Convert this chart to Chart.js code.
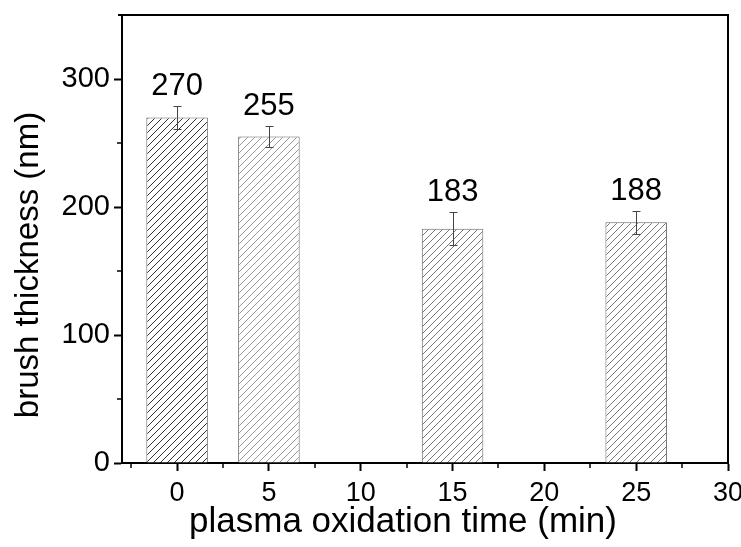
<!DOCTYPE html>
<html>
<head>
<meta charset="utf-8">
<script src="https://cdn.jsdelivr.net/npm/chart.js@4.4.1/dist/chart.umd.min.js"></script>
<style>
  html, body { margin: 0; padding: 0; background: #fff; }
</style>
</head>
<body>
<canvas id="c" width="741" height="547"></canvas>
<script>
// data
const times = [0, 5, 15, 25];            // plasma oxidation time (min)
const thickness = [270, 255, 183, 188];  // brush thickness (nm)
const thicknessErr = [9, 8, 13, 9];
const xTicks = [0, 5, 10, 15, 20, 25, 30];
const xMinor = [-2.5, 2.5, 7.5, 12.5, 17.5, 22.5, 27.5];
const yTicks = [0, 100, 200, 300];
const yMinor = [50, 150, 250];
const xTitle = 'plasma oxidation time (min)';
const yTitle = 'brush thickness (nm)';

const FONT = '"Liberation Sans", Arial, sans-serif';

// diagonal hatch fill
function hatch(color, gap) {
  const c = document.createElement('canvas');
  c.width = gap; c.height = gap;
  const g = c.getContext('2d');
  g.fillStyle = '#fff';
  g.fillRect(0, 0, gap, gap);
  g.strokeStyle = color;
  g.lineWidth = 1;
  g.beginPath();
  g.moveTo(0, gap); g.lineTo(gap, 0);
  g.moveTo(-1, 1); g.lineTo(1, -1);
  g.moveTo(gap - 1, gap + 1); g.lineTo(gap + 1, gap - 1);
  g.stroke();
  return g.createPattern(c, 'repeat');
}
const fills = [hatch('#333', 7), hatch('#999', 7), hatch('#777', 7), hatch('#777', 7)];

// error bars, value labels, box frame, minor ticks, axis titles
const extras = {
  id: 'extras',
  afterDatasetsDraw(chart) {
    const { ctx, scales: { x, y } } = chart;
    ctx.save();
    times.forEach((t, i) => {
      const px = Math.round(x.getPixelForValue(t)) + 0.5;
      const top = Math.round(y.getPixelForValue(thickness[i] + thicknessErr[i])) + 0.5;
      const bot = Math.round(y.getPixelForValue(thickness[i] - thicknessErr[i])) + 0.5;
      ctx.strokeStyle = '#444';
      ctx.lineWidth = 1;
      ctx.beginPath();
      ctx.moveTo(px, top); ctx.lineTo(px, bot);
      ctx.moveTo(px - 4, top); ctx.lineTo(px + 4, top);
      ctx.moveTo(px - 4, bot); ctx.lineTo(px + 4, bot);
      ctx.stroke();

      ctx.fillStyle = '#000';
      ctx.font = '31px ' + FONT;
      ctx.textAlign = 'center';
      ctx.textBaseline = 'alphabetic';
      ctx.fillText(String(thickness[i]), x.getPixelForValue(t), top - 12);
    });
    ctx.restore();
  },
  afterDraw(chart) {
    const { ctx, chartArea: a, scales: { x, y } } = chart;
    ctx.save();
    ctx.strokeStyle = '#000';
    ctx.lineWidth = 2;
    ctx.beginPath();
    ctx.moveTo(a.left - 4, a.top);
    ctx.lineTo(a.right, a.top);
    ctx.lineTo(a.right, a.bottom);
    ctx.stroke();
    // minor ticks
    ctx.lineWidth = 1.5;
    ctx.beginPath();
    yMinor.forEach(v => {
      const py = Math.round(y.getPixelForValue(v));
      ctx.moveTo(a.left, py); ctx.lineTo(a.left - 5, py);
    });
    xMinor.forEach(v => {
      const px = Math.round(x.getPixelForValue(v));
      ctx.moveTo(px, a.bottom); ctx.lineTo(px, a.bottom + 5);
    });
    ctx.stroke();
    // axis titles
    ctx.fillStyle = '#000';
    ctx.textAlign = 'center';
    ctx.textBaseline = 'middle';
    ctx.font = '35px ' + FONT;
    ctx.fillText(xTitle, (a.left + a.right) / 2 - 22, chart.height - 25);
    ctx.translate(29, (a.top + a.bottom) / 2 + 26);
    ctx.rotate(-Math.PI / 2);
    ctx.font = '33px ' + FONT;
    ctx.fillText(yTitle, 0, 0);
    ctx.restore();
  }
};

new Chart(document.getElementById('c'), {
  type: 'bar',
  data: {
    datasets: [{
      data: times.map((t, i) => ({ x: t, y: thickness[i] })),
      backgroundColor: fills,
      borderColor: '#666',
      borderWidth: 1,
      barPercentage: 0.67,
      categoryPercentage: 1
    }]
  },
  options: {
    responsive: false,
    animation: false,
    devicePixelRatio: 1,
    layout: { padding: { top: 15, right: 13, left: 0, bottom: 0 } },
    plugins: { legend: { display: false }, tooltip: { enabled: false } },
    scales: {
      x: {
        type: 'linear',
        min: -3,
        max: 30,
        offset: false,
        afterBuildTicks: s => { s.ticks = xTicks.map(v => ({ value: v })); },
        afterFit: s => { s.height = 84; s.paddingLeft = 0; s.paddingRight = 0; },
        border: { color: '#000', width: 2 },
        grid: { offset: false, drawOnChartArea: false, tickLength: 8, tickWidth: 2, tickColor: '#000' },
        ticks: { color: '#000', font: { family: FONT, size: 27 }, padding: 6, maxRotation: 0 },
        title: { display: false }
      },
      y: {
        min: 0,
        max: 350,
        afterBuildTicks: s => { s.ticks = yTicks.map(v => ({ value: v })); },
        afterFit: s => { s.width = 122; s.paddingTop = 0; s.paddingBottom = 0; },
        border: { color: '#000', width: 2 },
        grid: { drawOnChartArea: false, tickLength: 8, tickWidth: 2, tickColor: '#000' },
        ticks: { color: '#000', font: { family: FONT, size: 29 }, padding: 4 },
        title: { display: false }
      }
    }
  },
  plugins: [extras]
});
</script>
</body>
</html>
